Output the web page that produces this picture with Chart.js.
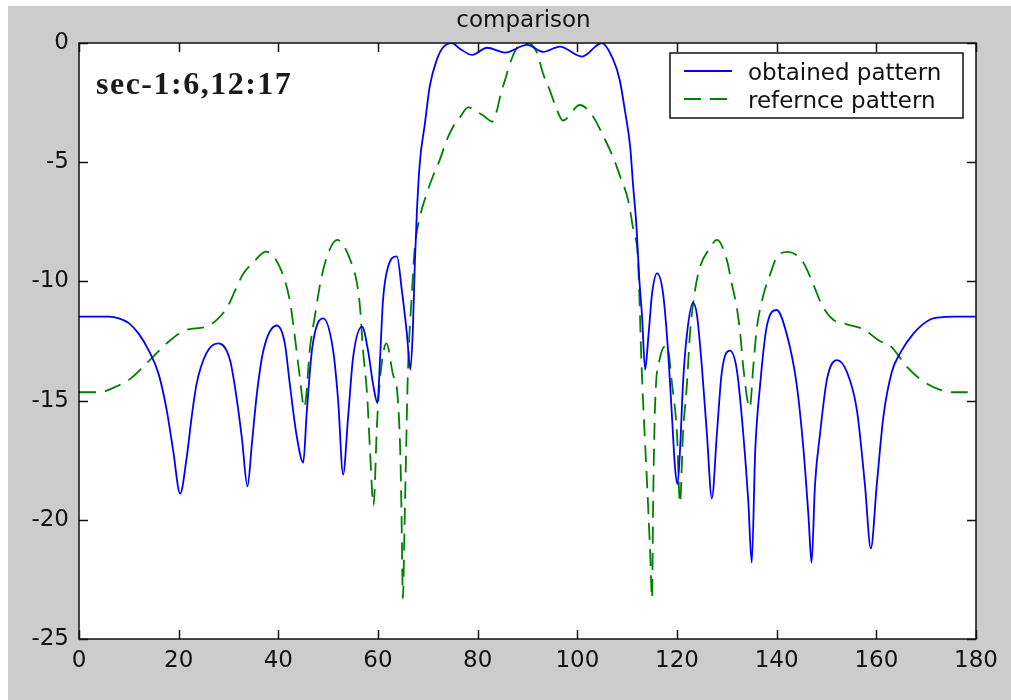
<!DOCTYPE html>
<html>
<head>
	<meta charset="UTF-8">
	<title>comparison</title>
	<style>
		body { margin: 0; background: #fff; }
		#wrap { width: 1011px; height: 700px; }
	</style>
	<script src="https://cdn.jsdelivr.net/npm/chart.js@4/dist/chart.umd.min.js"></script>
</head>
<body>
	<div id="wrap"><canvas id="canvas"></canvas></div>
	<script>

		var chartTitle = 'comparison';
		var noteText = 'sec-1:6,12:17';
		var seriesLabels = ['obtained pattern', 'refernce pattern'];
		var xTicks = [0, 20, 40, 60, 80, 100, 120, 140, 160, 180];
		var yTicks = [-25, -20, -15, -10, -5, 0];

		// obtained pattern (angle, dB)
		var obtainedX = [0, 6, 8, 10, 12, 14, 16, 17.6, 18.9, 20.3, 21.6, 22.6, 23.6, 25.6, 27.9, 30.3, 31.7, 32.7, 33.8, 34.7,
			35.7, 37, 39.7, 41.3, 42.3, 43.7, 45, 45.7, 46.8, 49, 51, 52, 53, 54, 55, 56.8, 58, 59, 59.9, 60.4,
			61, 62, 63.8, 64.8, 65.8, 66.5, 67, 67.4, 67.8, 68.4, 69.4, 70.4, 71.8, 73, 74.8, 76.5, 78.9, 81.9, 85.5, 89.9,
			93.1, 96.5, 100.9, 104.9, 107.2, 108.5, 109.6, 110.6, 111.2, 111.9, 112.4, 113, 113.6, 114.3, 115, 116, 117.2, 118.2, 119, 119.6,
			120.1, 120.6, 121.2, 122, 123.2, 124, 125, 126, 127, 128, 129, 130.6, 132, 133.3, 134.3, 135, 135.7, 136.7, 138, 140,
			142, 144, 145.4, 146.4, 147, 147.7, 148.7, 150.1, 152.1, 154.1, 156.1, 157.7, 158.9, 160.1, 161.4, 163.1, 164.8, 167.4, 170.8, 173.4,
			176, 180];
		var obtainedY = [-11.48, -11.48, -11.55, -11.75, -12.2, -12.9, -13.9, -15.4, -17.1, -18.9, -17.4, -15.7, -14.3, -13.0, -12.6, -13.3, -15.0, -16.6, -18.6, -16.8,
			-14.7, -12.9, -11.85, -12.6, -14.3, -16.5, -17.6, -15.5, -12.8, -11.55, -12.9, -15.0, -18.1, -15.7, -13.2, -11.9, -12.9, -14.3, -15.1, -13.3,
			-10.8, -9.4, -8.95, -10.4, -12.2, -13.7, -12.0, -9.2, -7.1, -5.0, -3.4, -1.8, -0.7, -0.2, 0, -0.25, -0.5, -0.2, -0.4, -0.08,
			-0.37, -0.15, -0.57, 0, -0.7, -1.55, -2.9, -4.35, -6.0, -7.8, -9.8, -11.5, -13.7, -12.2, -10.5, -9.66, -10.5, -12.9, -15.7, -17.8,
			-18.5, -17.1, -14.3, -12.2, -10.9, -11.4, -13.6, -16.4, -19.1, -16.4, -13.8, -12.9, -13.7, -16.4, -19.2, -21.8, -17.1, -14.3, -11.9, -11.2,
			-12.2, -14.3, -17.1, -19.9, -21.8, -18.5, -16.4, -14.1, -13.3, -13.8, -15.4, -18.5, -21.2, -18.5, -15.7, -13.8, -13.0, -12.2, -11.6, -11.5,
			-11.48, -11.48];

		// refernce pattern (angle, dB)
		var referenceX = [0, 4, 7.6, 10.2, 14.2, 17.6, 21.3, 25.6, 27.7, 29.7, 31.3, 32.9, 35, 37.5, 40.3, 42.3, 43.3, 44.3, 45.2, 46.4,
			47.3, 48.4, 49.7, 51.8, 54.8, 55.8, 56.4, 57, 57.8, 58.4, 59.1, 59.8, 60.4, 61.7, 63, 63.8, 64.2, 64.5, 64.7, 65,
			65.3, 65.6, 66, 66.8, 67.4, 68.4, 69.8, 71, 72.4, 73.8, 75.1, 76.5, 78.1, 80, 81.5, 82.9, 83.9, 84.5, 85.5, 86.5,
			87.9, 89.9, 91.9, 93.1, 94.5, 95.9, 97.1, 100.5, 103.2, 105.2, 107.2, 108.6, 110.2, 111.2, 112.2, 112.9, 114, 114.6, 115, 115.2,
			115.6, 116.6, 118, 119, 120, 120.6, 121.2, 122, 122.6, 123.6, 124.6, 126.6, 128, 130, 131, 132, 132.7, 133.3, 134.6, 135.3,
			136, 137.3, 138.7, 140, 142.3, 145.3, 147.3, 149.1, 151.3, 154.1, 157.3, 160.7, 162.8, 166.2, 168.8, 172.2, 175.4, 180];
		var referenceY = [-14.65, -14.65, -14.4, -14.1, -13.3, -12.6, -12.05, -11.9, -11.6, -11.1, -10.4, -9.7, -9.2, -8.75, -9.4, -10.8, -12.3, -14.0, -15.3, -12.7,
			-11.5, -10.1, -9.0, -8.26, -9.3, -10.1, -11.1, -12.9, -14.7, -17.1, -19.4, -16.0, -14.1, -12.6, -13.9, -14.5, -15.7, -17.4, -19.5, -23.3,
			-20.5, -17.5, -13.8, -10.5, -8.55, -7.3, -6.3, -5.6, -4.9, -4.07, -3.5, -3.1, -2.7, -2.9, -3.1, -3.3, -2.8, -2.25, -1.55, -0.85,
			-0.2, 0, -0.4, -1.27, -2.0, -2.8, -3.25, -2.6, -3.1, -3.9, -4.8, -5.6, -6.6, -7.8, -9.2, -13.6, -18.5, -21.3, -23.3, -19.5,
			-15.2, -13.2, -12.7, -14.3, -16.4, -19.3, -16.4, -14.3, -12.2, -10.4, -9.4, -8.6, -8.26, -9.1, -10.1, -11.1, -12.2, -13.6, -15.3, -13.6,
			-12.0, -10.6, -9.7, -9.0, -8.76, -9.2, -10.1, -11.0, -11.6, -11.8, -12.0, -12.5, -12.7, -13.6, -14.1, -14.5, -14.65, -14.65];

		function pairs(xs, ys) {
			return xs.map(function(x, i){ return { x: x, y: ys[i] }; });
		}

		// grey figure, white axes, frame with inward ticks, title, note and legend box
		var matlabLook = {
			id: 'matlabLook',
			beforeDraw: function(chart){
				var ctx = chart.ctx, a = chart.chartArea;
				ctx.save();
				ctx.fillStyle = '#fff';
				ctx.fillRect(0, 0, chart.width, chart.height);
				ctx.fillStyle = 'rgb(204,204,204)';
				ctx.fillRect(8, 6, chart.width - 8, chart.height - 6);
				ctx.fillStyle = '#fff';
				ctx.fillRect(a.left, a.top, a.right - a.left, a.bottom - a.top);
				ctx.restore();
			},
			afterDraw: function(chart){
				var ctx = chart.ctx, a = chart.chartArea;
				var xs = chart.scales.x, ys = chart.scales.y;
				var tl = 9;
				ctx.save();
				ctx.strokeStyle = '#111';
				ctx.lineWidth = 1.5;
				ctx.strokeRect(a.left, a.top, a.right - a.left, a.bottom - a.top);
				ctx.beginPath();
				xTicks.forEach(function(v){
					var px = Math.round(xs.getPixelForValue(v)) + 0.5;
					ctx.moveTo(px, a.bottom); ctx.lineTo(px, a.bottom - tl);
					ctx.moveTo(px, a.top); ctx.lineTo(px, a.top + tl);
				});
				yTicks.forEach(function(v){
					var py = Math.round(ys.getPixelForValue(v)) + 0.5;
					ctx.moveTo(a.left, py); ctx.lineTo(a.left + tl, py);
					ctx.moveTo(a.right, py); ctx.lineTo(a.right - tl, py);
				});
				ctx.stroke();

				// title
				ctx.fillStyle = '#111';
				ctx.font = '23px "DejaVu Sans"';
				ctx.textAlign = 'center';
				ctx.textBaseline = 'alphabetic';
				ctx.fillText(chartTitle, (a.left + a.right) / 2 - 4, 27);

				// note
				ctx.textAlign = 'left';
				ctx.font = 'bold 32px "Liberation Serif"';
				ctx.letterSpacing = '1.5px';
				ctx.fillStyle = '#1a1a1a';
				ctx.fillText(noteText, 96, 94);
				ctx.letterSpacing = '0px';

				// legend
				var lx = 670, ly = 53, lw = 293, lh = 65;
				ctx.fillStyle = '#fff';
				ctx.fillRect(lx, ly, lw, lh);
				ctx.lineWidth = 1.5;
				ctx.strokeStyle = '#111';
				ctx.strokeRect(lx, ly, lw, lh);
				ctx.font = '23px "DejaVu Sans"';
				chart.data.datasets.forEach(function(ds, i){
					var y = 71 + i * 28;
					ctx.strokeStyle = ds.borderColor;
					ctx.lineWidth = ds.borderWidth;
					ctx.setLineDash(ds.borderDash || []);
					ctx.beginPath();
					ctx.moveTo(684, y); ctx.lineTo(732, y);
					ctx.stroke();
					ctx.setLineDash([]);
					ctx.fillStyle = '#111';
					ctx.fillText(ds.label, 748, y + 9);
				});
				ctx.restore();
			}
		};

		var config = {
			type: 'line',
			data: {
				datasets: [{
					label: seriesLabels[0],
					data: pairs(obtainedX, obtainedY),
					borderColor: 'rgb(0,0,255)',
					borderWidth: 1.8,
					pointRadius: 0,
					fill: false,
					cubicInterpolationMode: 'monotone'
				}, {
					label: seriesLabels[1],
					data: pairs(referenceX, referenceY),
					borderColor: 'rgb(0,128,0)',
					borderWidth: 1.8,
					borderDash: [17, 9],
					pointRadius: 0,
					fill: false,
					cubicInterpolationMode: 'monotone'
				}]
			},
			options: {
				responsive: true,
				maintainAspectRatio: false,
				animation: false,
				devicePixelRatio: 1,
				layout: { padding: { left: 0, right: 35, top: 43, bottom: 0 } },
				plugins: { legend: { display: false }, title: { display: false }, tooltip: { enabled: false } },
				scales: {
					x: {
						type: 'linear', min: 0, max: 180,
						afterFit: function(s){ s.height = 61; },
						afterBuildTicks: function(s){ s.ticks = xTicks.map(function(v){ return { value: v }; }); },
						grid: { display: false, drawTicks: false },
						border: { display: false },
						ticks: { padding: 8, color: '#111', maxRotation: 0, autoSkip: false, font: { family: 'DejaVu Sans', size: 23 } }
					},
					y: {
						type: 'linear', min: -25, max: 0,
						afterFit: function(s){ s.width = 79; },
						afterBuildTicks: function(s){ s.ticks = yTicks.map(function(v){ return { value: v }; }); },
						grid: { display: false, drawTicks: false },
						border: { display: false },
						ticks: { padding: 10, color: '#111', autoSkip: false, font: { family: 'DejaVu Sans', size: 23 } }
					}
				}
			},
			plugins: [matlabLook]
		};

		new Chart(document.getElementById('canvas').getContext('2d'), config);

	</script>
</body>
</html>
